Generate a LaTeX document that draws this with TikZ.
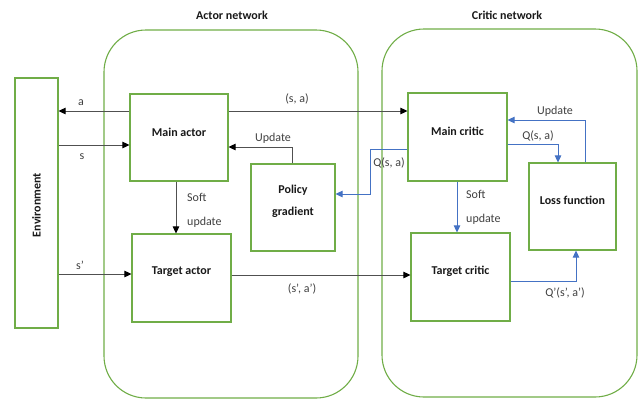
\documentclass[tikz,border=0pt]{standalone}
\usepackage{fontspec}
\setmainfont{Carlito}
\usetikzlibrary{arrows.meta}
\definecolor{grn}{HTML}{70AD47}
\definecolor{blu}{HTML}{4472C4}
\definecolor{gline}{HTML}{505050}
\tikzset{
  box/.style={draw=grn, line width=1.1pt, fill=white, inner sep=0pt},
  container/.style={draw=grn, line width=1.1pt, rounded corners=42pt, inner sep=0pt},
  boxtext/.style={font=\fontsize{12}{22}\selectfont\bfseries, align=center, text=black!90},
  lbl/.style={font=\fontsize{12}{24}\selectfont, text=black!75, inner sep=0pt, align=left},
  title/.style={font=\fontsize{12}{14}\selectfont\bfseries, text=black!90},
  garrow/.style={draw=gline, line width=0.8pt, -{Triangle[length=7pt,width=6.5pt,black]}},
  barrow/.style={draw=blu, line width=0.8pt, -{Triangle[length=7pt,width=6.5pt,blu]}},
}
\begin{document}
\begin{tikzpicture}[x=1pt,y=-1pt]
\useasboundingbox (0,0) rectangle (640,400);
% containers
\node[container, minimum width=254pt, minimum height=368pt] (actornet) at (231,214) {};
\node[container, minimum width=255pt, minimum height=368pt] (criticnet) at (509.5,213) {};
\node[title] (actortitle) at (232,15) {Actor network};
\node[title] (critictitle) at (507,15) {Critic network};
% boxes
\node[box, minimum width=43pt, minimum height=250pt] (env) at (36.5,203) {};
\node[title, rotate=90] (envtext) at (36.5,205) {Environment};
\node[box, minimum width=98pt, minimum height=87pt, label={[boxtext, yshift=5.5pt]center:Main actor}] (mainactor) at (179,137.5) {};
\node[box, minimum width=99pt, minimum height=88pt, label={[boxtext, yshift=6pt]center:Target actor}] (targetactor) at (181.5,278) {};
\node[box, minimum width=84pt, minimum height=87pt, label={[boxtext, yshift=6.5pt]center:Policy\\gradient}] (policy) at (293,207.5) {};
\node[box, minimum width=99pt, minimum height=88pt, label={[boxtext, yshift=6pt]center:Main critic}] (maincritic) at (457.5,137) {};
\node[box, minimum width=99pt, minimum height=88pt, label={[boxtext, yshift=6pt]center:Target critic}] (targetcritic) at (460.5,277) {};
\node[box, minimum width=87pt, minimum height=87pt, label={[boxtext, yshift=6.5pt]center:Loss function}] (loss) at (572.5,206.5) {};
% black connectors
\draw[garrow] ([yshift=26.5pt]mainactor.west) coordinate (pa) -- (pa -| env.east);
\draw[garrow] ([yshift=26.5pt]mainactor.east) coordinate (psa) -- (psa -| maincritic.west);
\draw[garrow] ([yshift=58pt]env.east) coordinate (ps) -- (ps -| mainactor.west);
\draw[garrow] ([yshift=-71pt]env.east) coordinate (psp) -- (psp -| targetactor.west);
\draw[garrow] ([yshift=3pt]targetactor.east) coordinate (pspa) -- (pspa -| targetcritic.west);
\draw[garrow] ([xshift=-1pt]policy.north) |- ([yshift=-9.5pt]mainactor.east);
\draw[garrow] ([xshift=-3pt]mainactor.south) coordinate (psu) -- (psu |- targetactor.north);
% blue connectors
\draw[barrow] ([yshift=-12pt]maincritic.west) -- ++(-37,0) |- ([yshift=13.5pt]policy.east);
\draw[barrow] ([xshift=12.5pt]loss.north) |- ([yshift=17pt]maincritic.east);
\draw[barrow] ([yshift=-7pt]maincritic.east) -| ([xshift=-14.5pt]loss.north);
\draw[barrow] ([xshift=-0.5pt]maincritic.south) coordinate (pcu) -- (pcu |- targetcritic.north);
\draw[barrow] ([yshift=-4pt]targetcritic.east) -| ([xshift=3.5pt]loss.south);
% labels
\node[lbl] (la) at (81,103) {a};
\node[lbl] (lsa) at (297,99) {(s, a)};
\node[lbl] (ls) at (82,157) {s};
\node[lbl] (lupd) at (273,138) {Update};
\node[lbl, anchor=north west] (lsoft) at (187,193) {Soft\\update};
\node[lbl] (lsp) at (80,265) {s’};
\node[lbl] (lspa) at (302,289) {(s’, a’)};
\node[lbl] (lqpol) at (389,163) {Q(s, a)};
\node[lbl] (lupdc) at (555,111) {Update};
\node[lbl] (lqloss) at (538,136) {Q(s, a)};
\node[lbl, anchor=north west] (lsoftc) at (466,190) {Soft\\update};
\node[lbl] (lqp) at (565,293) {Q’(s’, a’)};
\end{tikzpicture}
\end{document}
